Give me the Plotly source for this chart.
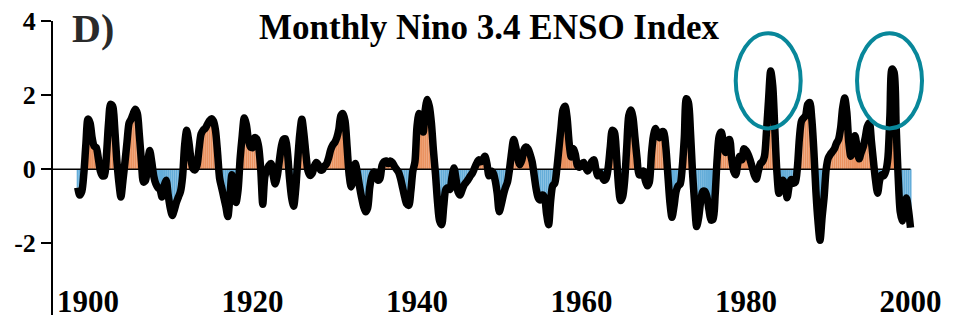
import numpy as np
import plotly.graph_objects as go

# Nino 3.4 index, sampled every quarter of a year starting 1898.75
START = 1898.75
STEP = 0.25

nino_1890s = [-0.5, -0.7, -0.6, -0.1, 0.7]
nino_1900s = [1.35, 1.25, 0.85, 0.62,  0.58, 0.3, -0.05, -0.18,  -0.18, 0.4, 1.25, 1.75,
              1.7, 1.1, 0.25, -0.35,  -0.75, -0.3, 0.2, 0.75,  1.25, 1.35, 1.5, 1.62,
              1.5, 0.9, 0.2, -0.35,  -0.3, 0.15, 0.5, 0.2,  -0.2, -0.4, -0.5, -0.55,
              -0.75, -0.45, -0.3, -0.7]
nino_1910s = [-1.05, -1.25, -1.1, -0.9,  -0.75, -0.6, -0.2, 0.65,  1.05, 0.75, 0.3, 0.02,
              -0.02, 0.1, 0.55, 0.95,  1.05, 1.1, 1.2, 1.3,  1.36, 1.3, 1.05, 0.45,
              -0.25, -0.5, -0.75, -1.0,  -1.28, -0.75, -0.15, -0.55,  -0.9, -0.55, 0.3, 0.9,
              1.38, 1.2, 0.8, 0.6]
nino_1920s = [0.58, 0.85, 0.82, 0.6,  0.0, -0.95, -0.2, -0.02,  0.1, 0.15, -0.15, -0.4,
              -0.2, 0.2, 0.6, 0.8,  0.82, 0.45, -0.25, -0.76,  -1.0, -0.55, 0.25, 0.95,
              1.35, 0.95, 0.4, -0.05,  -0.17, -0.12, 0.07, 0.18,  0.12, -0.02, -0.02, 0.08,
              0.14, 0.3, 0.52, 0.65]
nino_1930s = [0.72, 0.85, 1.08, 1.45,  1.5, 1.3, 0.6, -0.15,  -0.48, -0.3, 0.15, -0.1,
              -0.45, -0.75, -1.0, -1.15,  -1.05, -0.5, -0.2, -0.08,  -0.12, -0.3, -0.25, 0.1,
              0.2, 0.22, 0.15, 0.22,  0.18, 0.08, 0.0, -0.08,  -0.25, -0.5, -0.75, -0.94,
              -0.98, -0.6, -0.05, 0.2]
nino_1940s = [1.15, 1.5, 1.35, 1.0,  1.6, 1.88, 1.7, 1.25,  0.5, -0.15, -0.9, -1.4,
              -1.5, -1.0, -0.55, -0.5,  -0.55, -0.22, 0.03, -0.28,  -0.62, -0.7, -0.55, -0.42,
              -0.35, -0.27, -0.18, -0.1,  0.03, 0.15, 0.25, 0.2,  0.25, 0.35, 0.15, -0.18,
              -0.05, -0.1, -0.3, -0.65]
nino_1950s = [-1.15, -0.95, -0.7, -0.5,  -0.35, 0.0, 0.45, 0.8,  0.6, 0.3, 0.12, 0.25,
              0.52, 0.6, 0.55, 0.4,  0.2, -0.18, -0.55, -0.78,  -0.83, -0.7, -0.76, -1.2,
              -1.5, -0.85, -0.45, -0.38,  0.0, 0.55, 1.1, 1.6,  1.7, 1.38, 0.7, 0.33,
              0.55, 0.4, 0.1, 0.05]
nino_1960s = [0.14, 0.18, 0.05, -0.05,  0.05, 0.2, 0.25, 0.0,  -0.18, -0.1, -0.2, -0.3,
              -0.25, 0.05, 0.6, 1.05,  1.0, 0.4, -0.45, -0.85,  -0.75, -0.3, 0.6, 1.45,
              1.6, 1.4, 0.85, 0.3,  -0.15, -0.15, -0.05, -0.3,  -0.45, -0.35, 0.4, 0.9,
              1.1, 0.95, 0.85, 1.0]
nino_1970s = [1.0, 0.6, -0.15, -0.9,  -1.3, -1.0, -0.6, -0.45,  -0.4, 0.05, 0.85, 1.9,
              1.8, 1.0, -0.1, -0.9,  -1.55, -1.3, -0.85, -0.6,  -0.6, -0.75, -1.1, -1.38,
              -1.35, -0.7, 0.3, 0.9,  1.0, 0.68, 0.45, 0.75,  0.8, 0.3, -0.05, -0.15,
              0.15, 0.35, 0.25, 0.55]
nino_1980s = [0.5, 0.4, 0.25, 0.05,  -0.15, -0.27, -0.05, 0.15,  0.2, 0.35, 1.05, 1.9,
              2.65, 2.25, 1.1, -0.05,  -0.65, -0.38, -0.3, -0.42,  -0.77, -0.45, -0.28, -0.38,
              -0.35, 0.05, 0.85, 1.3,  1.38, 1.45, 1.75, 1.8,  1.35, 0.5, -0.6, -1.4,
              -1.92, -1.3, -0.75, 0.0]
nino_1990s = [0.3, 0.4, 0.47, 0.55,  0.7, 0.8, 1.1, 1.65,  1.92, 1.55, 0.72, 0.35,
              0.55, 0.9, 0.6, 0.28,  0.45, 0.6, 0.85, 1.15,  1.25, 0.75, 0.2, -0.3,
              -0.65, -0.3, -0.15, -0.18,  -0.05, 0.3, 1.45, 2.7,  2.62, 1.2, -0.2, -1.15,
              -1.4, -0.98, -0.78, -1.1]
nino_2000 = [-1.58]

year_ticks = [1900, 1920, 1940, 1960, 1980, 2000]
value_ticks = [-2, 0, 2, 4]
value_tick_text = ["-2", "0", "2", "4"]

# windows holding the two strongest El Nino events, circled on the chart
highlight_windows = [(1981.0, 1985.0), (1996.0, 2000.0)]

values = np.array(nino_1890s + nino_1900s + nino_1910s + nino_1920s + nino_1930s +
                  nino_1940s + nino_1950s + nino_1960s + nino_1970s + nino_1980s +
                  nino_1990s + nino_2000)
years = START + STEP * np.arange(len(values))

WARM = "#EA9260"
COLD = "#64ADD9"
bar_colors = [WARM if v >= 0 else COLD for v in values]

SERIF = "Liberation Serif"

W, H = 955, 321
M_L, M_R, M_T, M_B = 52, 15, 20.7, 41
plot_h = H - M_T - M_B
axis_tail = 35  # px the vertical axis runs on below the plot area

fig = go.Figure()
fig.add_bar(x=years, y=values, width=STEP,
            marker=dict(color=bar_colors, line=dict(width=0)))
fig.add_scatter(x=years, y=values, mode="lines",
                line=dict(color="black", width=7.5, shape="spline", smoothing=0.8))

x_range = [1895.623, 2003.587]
y_range = [-2.994, 4.0]

# baseline at zero, running from the axis to the end of the record
fig.add_shape(type="line", xref="x", yref="y", x0=x_range[0], x1=years[-1], y0=0, y1=0,
              line=dict(color="black", width=1.5), layer="above")

# vertical axis, drawn from the top of the plot down past the year labels
fig.add_shape(type="line", xref="paper", yref="paper", x0=0, x1=0,
              y0=1.0, y1=-axis_tail / plot_h, line=dict(color="black", width=2),
              layer="above")

for lo, hi in highlight_windows:
    mask = (years >= lo) & (years <= hi)
    peak_year = years[mask][np.argmax(values[mask])]
    fig.add_shape(type="circle", xref="x", yref="y",
                  x0=peak_year - 4.25, x1=peak_year + 3.65, y0=1.1, y1=3.67,
                  line=dict(color="#08879A", width=4), layer="above")

bottom_px = H - M_B  # pixel row of the plot bottom
fig.add_annotation(text="D)", xref="paper", yref="paper", x=0.0200,
                   y=(bottom_px - 28) / plot_h,
                   xanchor="left", yanchor="middle", showarrow=False,
                   font=dict(family=SERIF, size=40, color="#2a2a2a", weight="bold"))
fig.add_annotation(text="Monthly Nino 3.4 ENSO Index", xref="paper", yref="paper",
                   x=0.492, y=(bottom_px - 27) / plot_h, xanchor="center", yanchor="middle",
                   showarrow=False,
                   font=dict(family=SERIF, size=35, color="black", weight="bold"))

fig.update_layout(
    width=W, height=H,
    margin=dict(l=M_L, r=M_R, t=M_T, b=M_B, autoexpand=False),
    plot_bgcolor="white", paper_bgcolor="white",
    showlegend=False,
    xaxis=dict(range=x_range, showgrid=False, zeroline=False, showline=False,
               automargin=False,
               tickvals=year_ticks, ticktext=[str(y) for y in year_ticks],
               ticks="",
               tickfont=dict(family=SERIF, size=31, color="black", weight="bold")),
    yaxis=dict(range=y_range, showgrid=False, zeroline=False, automargin=False,
               showline=False,
               tickvals=value_ticks, ticktext=value_tick_text,
               ticks="outside", ticklen=10, tickwidth=2, tickcolor="black",
               tickfont=dict(family=SERIF, size=26, color="black", weight="bold")),
)

fig.write_html("out.html")
